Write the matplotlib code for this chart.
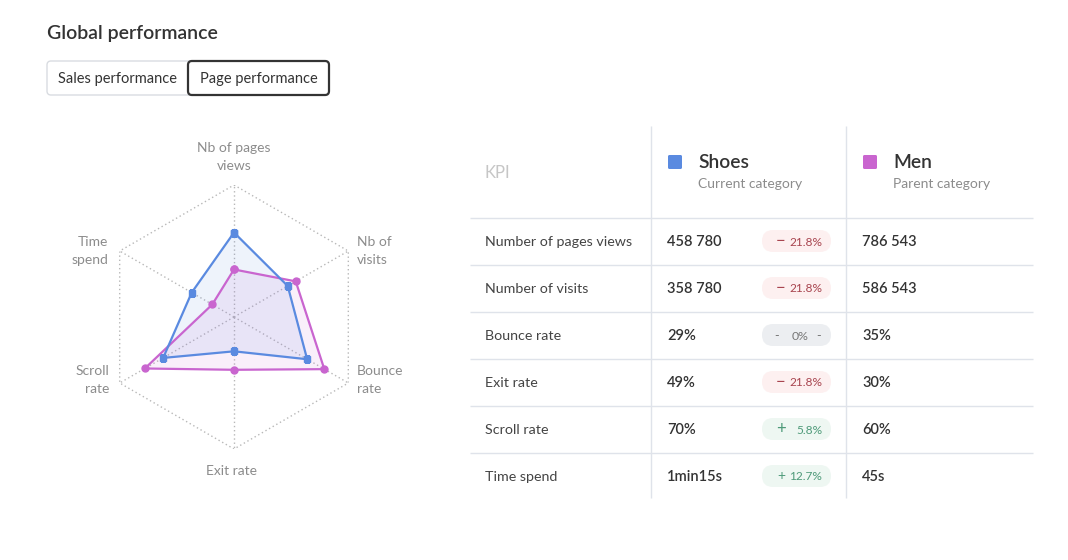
import matplotlib.pyplot as plt
import numpy as np
from matplotlib.patches import FancyBboxPatch

plt.rcParams['font.family'] = ['Lato', 'DejaVu Sans']

# radar data (score 0-100 on each axis)
radar_labels = ['Nb of pages\nviews', 'Nb of\nvisits', 'Bounce\nrate', 'Exit rate', 'Scroll\nrate', 'Time\nspend']
shoes_scores = [64, 47, 64, 26, 62, 37]
men_scores = [36, 54, 79, 40, 78, 19]

# table data
kpi_names = ['Number of pages views', 'Number of visits', 'Bounce rate', 'Exit rate', 'Scroll rate', 'Time spend']
shoes_values = ['458 780', '358 780', '29%', '49%', '70%', '1min15s']
change_dir = ['down', 'down', 'flat', 'down', 'up', 'up']
change_pct = ['21.8%', '21.8%', '0%', '21.8%', '5.8%', '12.7%']
men_values = ['786 543', '586 543', '35%', '30%', '60%', '45s']

BLUE = '#5a8ae0'
PURPLE = '#c965cf'
DARK = '#333333'
GREY = '#8c8c8c'
LINE = '#dfe3ea'

fig = plt.figure(figsize=(10.68, 5.6), dpi=100)

# overlay in pixel coords for the "UI" parts
ui = fig.add_axes([0, 0, 1, 1])
ui.set_xlim(0, 1068)
ui.set_ylim(560, 0)
ui.axis('off')

ui.text(47, 33, 'Global performance', fontsize=14, weight='semibold', color=DARK, va='center')

# tab buttons
ui.add_patch(FancyBboxPatch((47, 61), 282, 34, boxstyle='round,pad=0,rounding_size=4',
                            fc='white', ec='#d9dce1', lw=1))
ui.add_patch(FancyBboxPatch((188, 61), 141, 34, boxstyle='round,pad=0,rounding_size=4',
                            fc='white', ec=DARK, lw=1.6))
ui.text(117.5, 79, 'Sales performance', fontsize=10.5, color=DARK, ha='center', va='center')
ui.text(258.5, 79, 'Page performance', fontsize=10.5, color=DARK, ha='center', va='center')

# radar chart
cx, cy, rad = 234, 317, 132
ax = fig.add_axes([(cx - rad) / 1068, (560 - cy - rad) / 560, 2 * rad / 1068, 2 * rad / 560],
                  projection='polar')
ax.set_theta_offset(np.pi / 2)
ax.set_theta_direction(-1)
ax.set_ylim(0, 100)
ax.grid(False)
ax.set_xticks([])
ax.set_yticks([])
ax.spines['polar'].set_visible(False)
ax.patch.set_alpha(0)

angles = np.linspace(0, 2 * np.pi, len(radar_labels), endpoint=False)
closed = np.append(angles, angles[0])
for a in angles:
    ax.plot([a, a], [0, 100], color='#b8b8b8', lw=1, ls=(0, (1, 2)), zorder=1)
ax.plot(closed, [100] * len(closed), color='#b8b8b8', lw=1, ls=(0, (1, 2)), zorder=1)

men = np.append(men_scores, men_scores[0])
shoes = np.append(shoes_scores, shoes_scores[0])
ax.fill(closed, men, color=PURPLE, alpha=0.1, lw=0, zorder=2)
ax.fill(closed, shoes, color=BLUE, alpha=0.1, lw=0, zorder=2)
ax.plot(closed, men, color=PURPLE, lw=1.6, marker='o', ms=5, zorder=3)
ax.plot(closed, shoes, color=BLUE, lw=1.6, marker='s', ms=5, zorder=4)

label_pos = [(234, 157, 'center'), (357, 251, 'left'), (357, 380, 'left'),
             (232, 471, 'center'), (109, 380, 'right'), (108, 251, 'right')]
for lab, (x, y, ha) in zip(radar_labels, label_pos):
    ui.text(x, y, lab, fontsize=10, color=GREY, ha=ha, va='center', linespacing=1.65,
            multialignment=ha)

# table
ui.vlines([651, 846], 126, 498, color=LINE, lw=1)
ui.hlines([218 + 47 * i for i in range(6)], 470, 1033, color=LINE, lw=1)

ui.text(485, 173, 'KPI', fontsize=12, color='#c6c6c6', va='center')
for x0, name, sub, col in [(668, 'Shoes', 'Current category', BLUE),
                           (863, 'Men', 'Parent category', PURPLE)]:
    ui.add_patch(FancyBboxPatch((x0, 155), 14, 14, boxstyle='round,pad=0,rounding_size=1.5',
                                fc=col, ec='none'))
    ui.text(x0 + 30, 163, name, fontsize=13.8, weight='semibold', color=DARK, va='center')
    ui.text(x0 + 30, 184, sub, fontsize=10, color=GREY, va='center')

pill_style = {'down': ('#fdf0f0', '#a8454f', '\u2212'),
              'flat': ('#eceef1', '#777777', '-'),
              'up': ('#eef7f2', '#4e9a79', '+')}
for i in range(len(kpi_names)):
    y = 241 + 47 * i
    ui.text(485, y + 1, kpi_names[i], fontsize=10.3, color='#444444', va='center')
    ui.text(667, y + 1, shoes_values[i], fontsize=10.5, weight='semibold', color=DARK, va='center')
    ui.text(862, y + 1, men_values[i], fontsize=10.5, weight='semibold', color=DARK, va='center')
    bg, fg, sign = pill_style[change_dir[i]]
    ui.add_patch(FancyBboxPatch((762, y - 11), 69, 22, boxstyle='round,pad=0,rounding_size=11',
                                fc=bg, ec='none'))
    if change_dir[i] == 'flat':
        ui.text(777, y + 1, sign, fontsize=9, color=fg, ha='center', va='center')
        ui.text(800, y + 1, change_pct[i], fontsize=8.8, color=fg, ha='center', va='center')
        ui.text(819, y + 1, sign, fontsize=9, color=fg, ha='center', va='center')
    else:
        small_sign = change_dir[i] == 'up' and len(change_pct[i]) > 4
        ui.text(781, y, sign, fontsize=10 if small_sign else 12, color=fg, ha='center', va='center')
        ui.text(822, y + 1, change_pct[i], fontsize=8.6, color=fg, ha='right', va='center')

fig.savefig('out.png', dpi=100, facecolor='white')
